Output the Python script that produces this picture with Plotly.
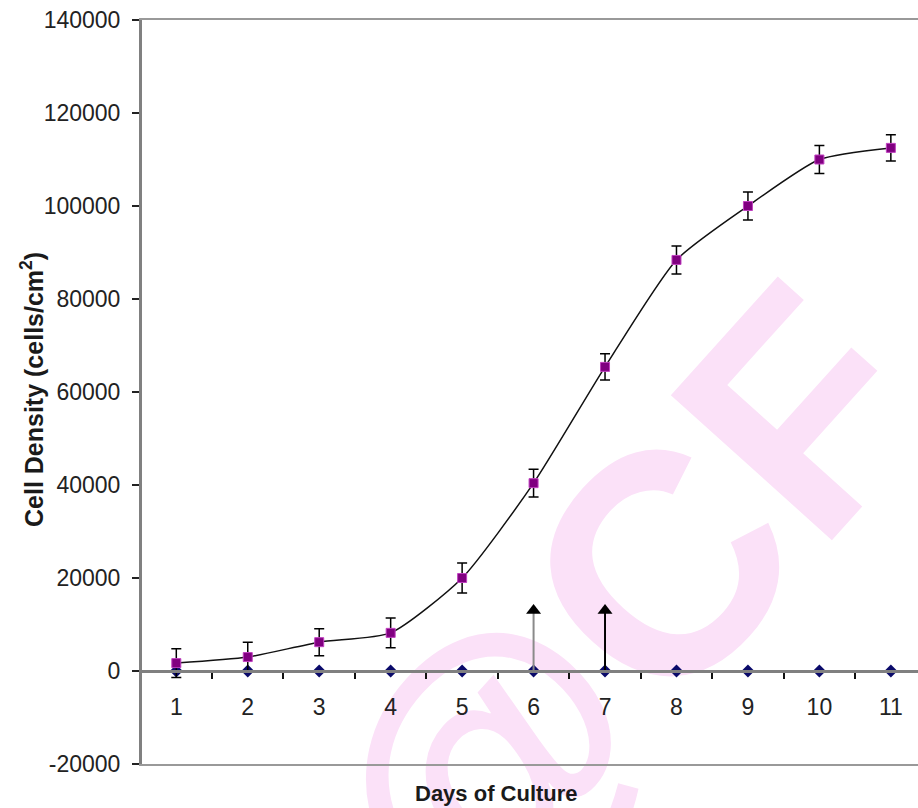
import plotly.graph_objects as go

# Growth curve data
days = [1, 2, 3, 4, 5, 6, 7, 8, 9, 10, 11]
density = [1700, 3000, 6200, 8200, 20000, 40400, 65400, 88400, 100000, 110000, 112500]
density_err = [3100, 3200, 2900, 3200, 3200, 3000, 2800, 3000, 3000, 3000, 2800]
baseline = [0, 0, 0, 0, 0, 0, 0, 0, 0, 0, 0]

# Feeding / treatment markers
arrow_days = [6, 7]
arrow_top = 14200
arrow_colors = ["#8a8a8a", "#000000"]

y_ticks = [-20000, 0, 20000, 40000, 60000, 80000, 100000, 120000, 140000]
y_min, y_max = -20000, 140000

FONT = "Arial, Liberation Sans, sans-serif"
W, H = 918, 808
ML, MR, MT, MB = 142, 0, 20, 44

fig = go.Figure()

# baseline series along zero
fig.add_trace(go.Scatter(
    x=days, y=baseline, mode="lines+markers",
    line=dict(color="#1a1a80", width=1.5),
    marker=dict(symbol="diamond", size=10, color="#0a0a6a"),
    showlegend=False, cliponaxis=False,
))

# arrow shafts
for d, c in zip(arrow_days, arrow_colors):
    fig.add_trace(go.Scatter(
        x=[d, d], y=[0, arrow_top - 1500], mode="lines",
        line=dict(color=c, width=2), showlegend=False,
    ))
# arrow heads
fig.add_trace(go.Scatter(
    x=arrow_days, y=[arrow_top - 1200] * len(arrow_days), mode="markers",
    marker=dict(symbol="triangle-up", size=13, color="#000000"),
    showlegend=False,
))

# cell density curve
fig.add_trace(go.Scatter(
    x=days, y=density, mode="lines+markers",
    line=dict(color="#111111", width=1.5, shape="spline", smoothing=0.6),
    marker=dict(symbol="square", size=9, color="#800080",
                line=dict(color="#c040c0", width=1)),
    error_y=dict(type="data", array=density_err, color="#000000",
                 thickness=1.5, width=5),
    showlegend=False,
))

zero_pos = (0 - y_min) / (y_max - y_min)

fig.update_layout(
    width=W, height=H,
    margin=dict(l=ML, r=MR, t=MT, b=MB, pad=0),
    paper_bgcolor="white", plot_bgcolor="white",
    font=dict(family=FONT, color="#222222"),
    xaxis=dict(
        range=[0.52, 11.38], anchor="free", position=zero_pos,
        tickmode="array", tickvals=days, ticktext=[str(d) for d in days],
        ticks="", showgrid=False, zeroline=False, ticklabelstandoff=14,
        showline=True, linecolor="#808080", linewidth=3,
        tickfont=dict(size=23, color="#222222"),
        minor=dict(tickmode="array", tickvals=[d + 0.5 for d in days],
                   ticks="outside", ticklen=6, tickwidth=2, tickcolor="#111111"),
        domain=[0, 1],
    ),
    xaxis2=dict(
        range=[0.52, 11.38], overlaying="x", anchor="y",
        showline=True, mirror=True, linecolor="#999999", linewidth=2,
        showticklabels=False, ticks="", showgrid=False, zeroline=False,
    ),
    yaxis=dict(
        range=[y_min, y_max], tickmode="array", tickvals=y_ticks,
        ticktext=[str(v) for v in y_ticks],
        ticks="outside", ticklen=7, tickwidth=2, tickcolor="#222222",
        showgrid=False, zeroline=False, ticklabelstandoff=7,
        showline=True, linecolor="#808080", linewidth=3,
        tickfont=dict(size=23, color="#222222"),
        domain=[0, 1],
    ),
)

# mirrored frame axis
fig.add_trace(go.Scatter(x=[1], y=[0], xaxis="x2", mode="markers",
                         marker=dict(size=1, opacity=0), showlegend=False,
                         hoverinfo="skip"))

pw = W - ML - MR
ph = H - MT - MB

def px_x(x):
    return (x - ML) / pw

def px_y(y):
    return (H - MB - y) / ph

fig.add_annotation(
    text="<b>Days of Culture</b>", xref="paper", yref="paper",
    x=px_x(496), y=px_y(793), showarrow=False,
    xanchor="center", yanchor="middle",
    font=dict(size=22, color="#1a1a1a", family=FONT),
)
fig.add_annotation(
    text="<b>Cell Density (cells/cm<sup>2</sup>)</b>", xref="paper", yref="paper",
    x=px_x(32), y=px_y(390), showarrow=False, textangle=-90,
    xanchor="center", yanchor="middle",
    font=dict(size=25, color="#1a1a1a", family=FONT),
)

# watermark behind the data
cx, cy = 600, 590
fig.add_shape(
    type="rect", xref="paper", yref="paper", layer="below",
    x0=px_x(cx - 5), x1=px_x(cx + 5), y0=px_y(cy + 5), y1=px_y(cy - 5),
    line=dict(width=0), fillcolor="rgba(0,0,0,0)",
    label=dict(text="<b>@CF</b>", textangle=-48, textposition="middle center",
               font=dict(size=315, color="#fbe1f8", family=FONT)),
)

fig.write_html("out.html")
